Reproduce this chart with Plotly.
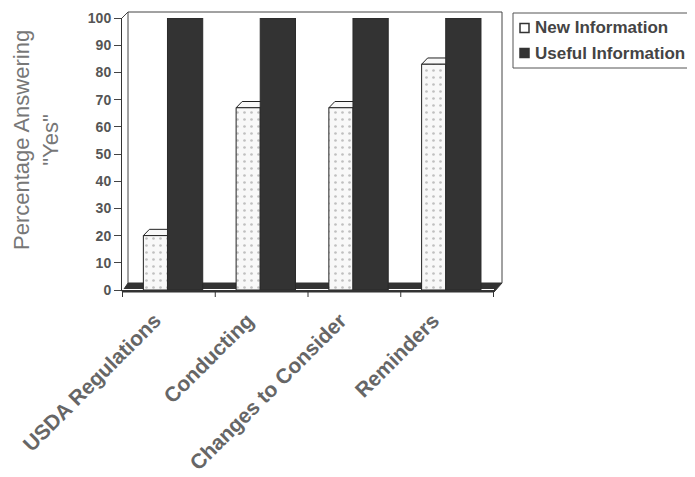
import plotly.graph_objects as go

categories = ["USDA Regulations", "Conducting", "Changes to Consider", "Reminders"]
series_names = ["New Information", "Useful Information"]
new_info = [20, 67, 67, 83]
useful_info = [100, 100, 100, 100]
y_ticks = [0, 10, 20, 30, 40, 50, 60, 70, 80, 90, 100]

# screen-pixel helpers (plot area: x 122..494, y 18..290 on screen; page body has 8px margin)
PL, PR, PT, PB = 122, 494, 18, 290
def fx(sx):
    return (sx - PL) / (PR - PL)
def fy(sy):
    return (PB - sy) / (PB - PT)

NEW_W, NEW_OFF = 0.26, -0.275
USE_W, USE_OFF = 0.38, -0.015

fig = go.Figure()
fig.add_trace(go.Bar(
    x=categories, y=new_info, name=series_names[0], width=NEW_W, offset=NEW_OFF,
    marker=dict(color="#f8f8f8", line=dict(color="#222", width=1),
                pattern=dict(shape=".", fgcolor="#888", bgcolor="#f8f8f8", size=7, solidity=0.12)),
    showlegend=False,
))
fig.add_trace(go.Bar(
    x=categories, y=useful_info, name=series_names[1], width=USE_W, offset=USE_OFF,
    marker=dict(color="#333333", line=dict(color="#2a2a2a", width=1)),
    showlegend=False,
))

fig.update_layout(
    width=695, height=477,
    margin=dict(l=PL - 8, r=695 + 8 - PR, t=PT - 8, b=477 + 8 - PB, autoexpand=False),
    paper_bgcolor="white", plot_bgcolor="white",
    barmode="overlay",
    font=dict(family="Liberation Sans, Arial", color="#555"),
    showlegend=False,
)
fig.update_xaxes(
    tickangle=-45, showline=True, linecolor="#333", linewidth=1,
    mirror=False, ticks="", showgrid=False, automargin=False,
    ticklabelshift=-14, ticklabelstandoff=9,
    tickfont=dict(size=21, family="Liberation Sans, Arial", color="#666", weight="bold"),
)
fig.update_yaxes(
    range=[0, 100], tickvals=y_ticks, ticks="outside", ticklen=7, tickcolor="#444",
    showline=True, linecolor="#333", linewidth=1, mirror=False, showgrid=False, automargin=False,
    tickfont=dict(size=14, family="Liberation Sans, Arial", color="#555", weight="bold"),
)

# 3D floor (dark)
fig.add_shape(type="path", xref="paper", yref="paper", layer="below",
              path=f"M {fx(122)},{fy(292)} L {fx(494)},{fy(292)} L {fx(502)},{fy(283)} L {fx(128)},{fy(283)} Z",
              fillcolor="#333", line=dict(color="#333", width=1))
# back wall outline
fig.add_shape(type="path", xref="paper", yref="paper", layer="below",
              path=f"M {fx(128)},{fy(283)} L {fx(128)},{fy(12)} L {fx(502)},{fy(12)} L {fx(502)},{fy(283)}",
              line=dict(color="#444", width=1))
fig.add_shape(type="line", xref="paper", yref="paper", x0=fx(122), y0=fy(18), x1=fx(128), y1=fy(12),
              line=dict(color="#444", width=1))
# category divider ticks along bottom
for i in range(len(categories) + 1):
    fig.add_shape(type="line", xref="x", yref="paper", x0=i - 0.5, x1=i - 0.5, y0=0, y1=fy(297),
                  line=dict(color="#333", width=1))

# 3D top caps on the "New Information" bars (derived from the data values)
DX, DY = 0.065, 2.3
for i, v in enumerate(new_info):
    x0 = i + NEW_OFF
    x1 = x0 + NEW_W
    fig.add_shape(type="path", xref="x", yref="y", layer="below",
                  path=f"M {x0},{v} L {x0 + DX},{v + DY} L {x1 + DX},{v + DY} L {x1},{v} Z",
                  fillcolor="#f8f8f8", line=dict(color="#222", width=1))

# y-axis title
fig.add_annotation(text="Percentage Answering<br>\"Yes\"", xref="paper", yref="paper",
                   x=fx(36), y=fy(140), xanchor="center", yanchor="middle",
                   textangle=-90, showarrow=False,
                   font=dict(size=22, color="#777", family="Liberation Sans, Arial"))

# legend (drawn manually to match the original box, which runs off the right edge)
fig.add_shape(type="path", xref="paper", yref="paper",
              path=f"M {fx(760)},{fy(13)} L {fx(513)},{fy(13)} L {fx(513)},{fy(68)} L {fx(760)},{fy(68)}",
              line=dict(color="#555", width=1))
legend_fill = ["white", "#333"]
legend_y = [28, 53]
for name, fc, ly in zip(series_names, legend_fill, legend_y):
    fig.add_shape(type="rect", xref="paper", yref="paper",
                  x0=fx(520), x1=fx(529), y0=fy(ly + 4.5), y1=fy(ly - 4.5),
                  line=dict(color="#333", width=1.5), fillcolor=fc)
    fig.add_annotation(text=name, xref="paper", yref="paper", x=fx(533), y=fy(ly),
                       xanchor="left", yanchor="middle", showarrow=False,
                       font=dict(size=17, color="#444", family="Liberation Sans, Arial", weight="bold"))

fig.write_html("out.html")
